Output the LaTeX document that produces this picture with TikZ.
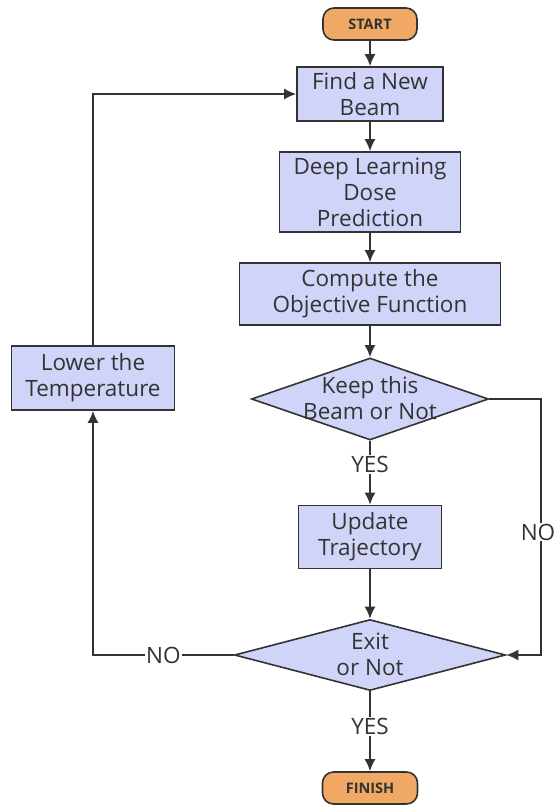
\documentclass[tikz,border=0pt]{standalone}
\usepackage{fontspec}
\setmainfont{Open Sans}
\usepackage{tikz}
\usetikzlibrary{shapes.geometric}
\usetikzlibrary{arrows.meta}
\definecolor{boxblue}{RGB}{208,212,248}
\definecolor{termorange}{RGB}{240,168,100}
\definecolor{inkgray}{RGB}{51,51,51}

\begin{document}
\begin{tikzpicture}[x=1pt,y=-1pt,
    every node/.style={text=inkgray, font=\fontsize{22.5}{26}\selectfont, align=center},
    box/.style={draw=inkgray, line width=1.6pt, fill=boxblue, inner sep=0pt},
    term/.style={draw=inkgray, line width=1.6pt, fill=termorange, rounded corners=11pt, inner sep=0pt,
      minimum height=32pt, font=\fontsize{14.5}{16}\selectfont\bfseries},
    decide/.style={draw=inkgray, line width=1.6pt, fill=boxblue, diamond, inner sep=0pt},
    flow/.style={draw=inkgray, line width=1.6pt, -{Latex[length=12pt,width=11pt]}},
    lbl/.style={fill=white, inner sep=1pt}]
    \useasboundingbox (0,0) rectangle (556,806);

    \node[term, minimum width=94pt] (start) at (370,24) {START};
    \node[box, minimum width=146pt, minimum height=54pt] (find) at (370,94) {Find a New\\Beam};
    \node[box, minimum width=181pt, minimum height=80pt] (dose) at (370,192) {Deep Learning\\Dose\\Prediction};
    \node[box, minimum width=261pt, minimum height=62pt] (obj) at (370,294) {Compute the\\Objective Function};
    \node[decide, minimum width=237pt, minimum height=82pt] (keep) at (370,399) {};
    \node (keeptxt) at (370,398) {Keep this\\Beam or Not};
    \node[box, minimum width=143pt, minimum height=63pt] (update) at (370,537) {Update\\Trajectory};
    \node[decide, minimum width=271pt, minimum height=71pt] (exit) at (370,655) {};
    \node (exittxt) at (370,654) {Exit\\or Not};
    \node[term, minimum width=95pt] (finish) at (370,788) {FINISH};
    \node[box, minimum width=163pt, minimum height=64pt] (lower) at (93,378) {Lower the\\Temperature};
    \coordinate (rt) at (541,399);

    \draw[flow] (start) -- (find);
    \draw[flow] (find) -- (dose);
    \draw[flow] (dose) -- (obj);
    \draw[flow] (obj) -- (keep);
    \draw[flow] (keep) -- node[lbl, pos=0.37] {YES} (update);
    \draw[flow] (update) -- (exit);
    \draw[flow] (exit) -- node[lbl, pos=0.44] {YES} (finish);
    \draw[flow] (exit.west) -| node[lbl, pos=0.25] {NO} (lower.south);
    \draw[flow] (lower.north) |- (find.west);
    \draw[flow] (keep.east) -- (rt) |- node[lbl, pos=0.26, xshift=-3pt, inner xsep=0pt] {NO} (exit.east);
  \end{tikzpicture}
\end{document}
